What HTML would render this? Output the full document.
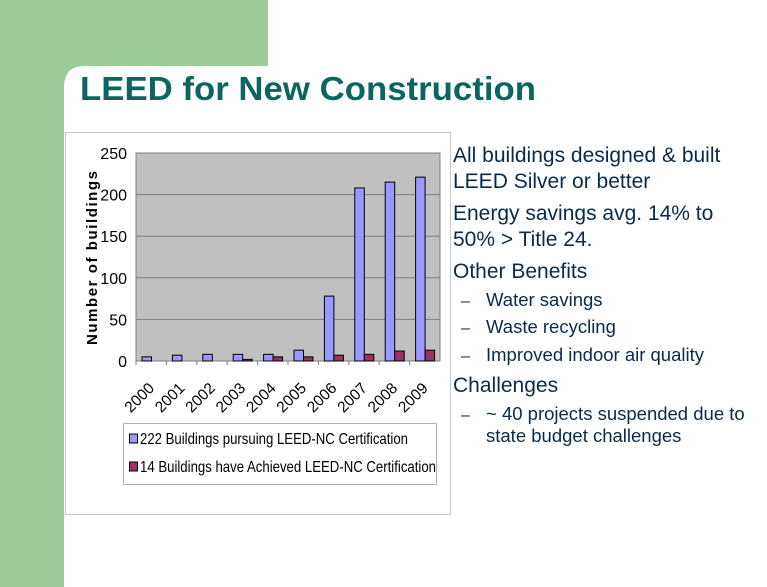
<!DOCTYPE html>
<html><head><meta charset="utf-8"><style>
html,body{margin:0;padding:0;background:#fff;}
svg{display:block;font-family:"Liberation Sans",Arial,sans-serif;}
</style></head><body>
<svg width="767" height="587" viewBox="0 0 767 587">
  <rect x="0" y="0" width="268" height="66" fill="#9ccc9b"/>
  <rect x="0" y="0" width="64" height="587" fill="#9ccc9b"/>
  <path d="M64 87 Q64 66 85 66 L64 66 Z" fill="#9ccc9b"/>
  <text x="80" y="100" font-size="33" font-weight="bold" fill="#0b6660" textLength="456" lengthAdjust="spacingAndGlyphs">LEED for New Construction</text>

  <rect x="65.5" y="132.5" width="385" height="382" fill="#fff" stroke="#c8c8c8"/>
  <g id="chart"></g>

  <g fill="#0b2a4a">
    <text x="453" y="162" font-size="21">All buildings designed &amp; built</text>
    <text x="453" y="188" font-size="21">LEED Silver or better</text>
    <text x="453" y="220" font-size="21">Energy savings avg. 14% to</text>
    <text x="453" y="246" font-size="21">50% &gt; Title 24.</text>
    <text x="453" y="278" font-size="21">Other Benefits</text>
    <text x="461" y="306" font-size="16">–</text>
    <text x="486" y="306" font-size="18.5">Water savings</text>
    <text x="461" y="333" font-size="16">–</text>
    <text x="486" y="333" font-size="18.5">Waste recycling</text>
    <text x="461" y="361" font-size="16">–</text>
    <text x="486" y="361" font-size="18.5">Improved indoor air quality</text>
    <text x="453" y="392" font-size="21">Challenges</text>
    <text x="461" y="420" font-size="16">–</text>
    <text x="486" y="420" font-size="18.5">~ 40 projects suspended due to</text>
    <text x="486" y="442" font-size="18.5">state budget challenges</text>
  </g>
</svg>
<script>
const categories = ["2000","2001","2002","2003","2004","2005","2006","2007","2008","2009"];
const pursuing = [5,7,8,8,8,13,78,208,215,221];
const achieved = [0,0,0,2,5,5,7,8,12,13];
const yTicks = [0,50,100,150,200,250];
const legendLabels = ["222 Buildings pursuing LEED-NC Certification","14 Buildings have Achieved LEED-NC Certification"];

const NS = "http://www.w3.org/2000/svg";
const g = document.getElementById('chart');
const px0 = 136, px1 = 440, py0 = 361, py1 = 153, ymax = 250;
const bw = (px1 - px0) / categories.length;
function yS(v){ return py0 - (v / ymax) * (py0 - py1); }
function xS(i){ return px0 + i * bw; }
function mk(tag, attrs){ const e = document.createElementNS(NS, tag); for (const k in attrs) e.setAttribute(k, attrs[k]); g.appendChild(e); return e; }

let e = mk('rect', {x:px0, y:py1, width:px1-px0, height:py0-py1, fill:'#c0c0c0', stroke:'#808080', 'stroke-width':1});



yTicks.forEach(t => {
  const y = yS(t);
  const l = mk('line', {x1:px0, x2:px1, y1:y, y2:y, stroke:'#808080', 'stroke-width':1});
  
  
  const tl = mk('text', {x:127, y:y+6, 'font-size':16, 'text-anchor':'end', fill:'#000', transform:'scale(1 1)'});
  tl.textContent = t;
  
  
});

const axis = mk('line', {x1:px0, x2:px1, y1:py0, y2:py0, stroke:'#808080'});



categories.forEach((c, i) => {
  const x = xS(i);
  const tk = mk('line', {x1:x, x2:x, y1:py0, y2:py0+4, stroke:'#808080'});
  
  
  const b1 = mk('rect', {x:x+6, y:yS(pursuing[i]), width:9.5, height:py0-yS(pursuing[i]), fill:'#9999ff', stroke:'#000', 'stroke-width':1});
  
  
  if (achieved[i] > 0) {
    const b2 = mk('rect', {x:x+15.5, y:yS(achieved[i]), width:9.5, height:py0-yS(achieved[i]), fill:'#993366', stroke:'#000', 'stroke-width':1});
    
    
  }
  const cx = x + bw/2 + 4;
  const lt = mk('text', {x:cx, y:389, 'font-size':15.5, 'text-anchor':'end', transform:'rotate(-45 '+cx+' 389)'});
  lt.textContent = c;
  
  
});

const yt = mk('text', {x:97, y:257, 'font-size':15, 'font-weight':'bold', 'text-anchor':'middle', 'letter-spacing':'2', textLength:176, transform:'rotate(-90 97 257)'});
yt.textContent = 'Number of buildings';



const lg = mk('rect', {x:123.5, y:423.5, width:313, height:61, fill:'#fff', stroke:'#b0b0b0'});


const colors = ['#9999ff', '#993366'];
legendLabels.forEach((lab, i) => {
  const y = 438 + i*28;
  const sw = mk('rect', {x:129.5, y:y-4, width:8, height:9, fill:colors[i], stroke:'#000'});
  
  
  const t = mk('text', {x:140, y:y+6, 'font-size':16, textLength: i==0 ? 268 : 296, lengthAdjust:'spacingAndGlyphs'});
  t.textContent = lab;
  
  
});
</script>
</body></html>
